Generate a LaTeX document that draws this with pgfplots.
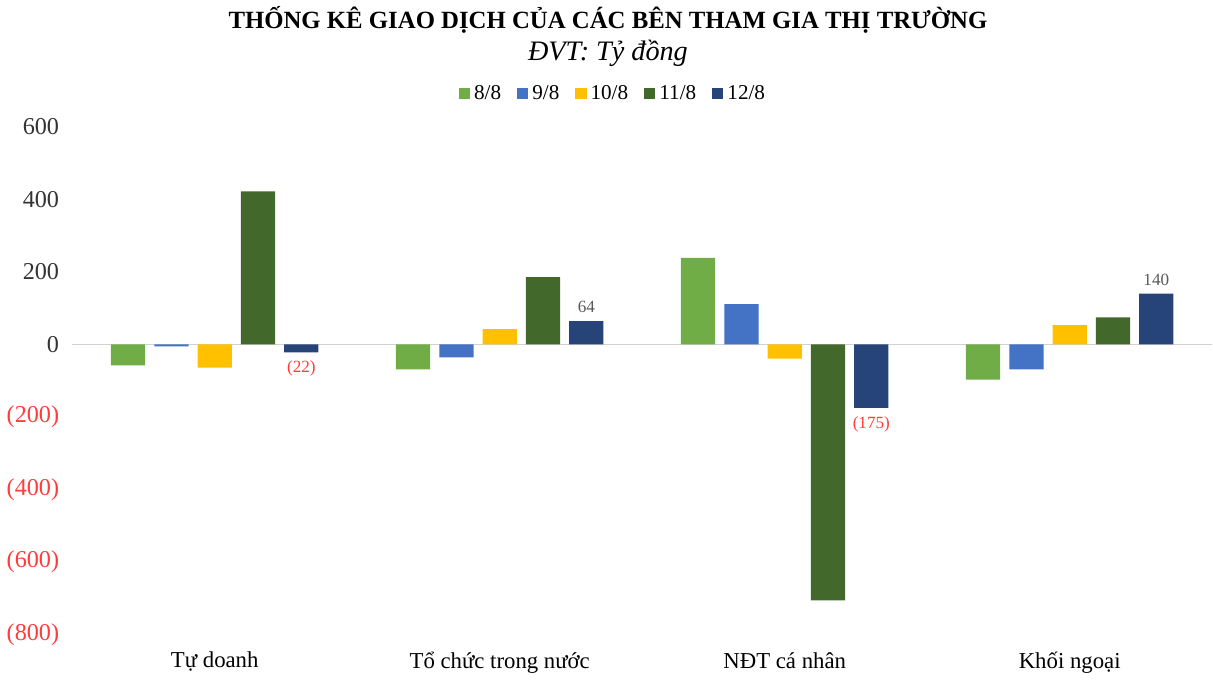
\documentclass[border=0pt]{standalone}
\usepackage{pgfplots}
\pgfplotsset{compat=1.18}
\usepackage{fontspec}
\setmainfont{Liberation Serif}

\definecolor{c1}{HTML}{70AD47}
\definecolor{c2}{HTML}{4472C4}
\definecolor{c3}{HTML}{FFC000}
\definecolor{c4}{HTML}{43682B}
\definecolor{c5}{HTML}{264478}
\definecolor{negred}{HTML}{FF3B3B}
\definecolor{lbl}{HTML}{595959}

\begin{document}
\begin{tikzpicture}
\begin{axis}[
    scale only axis,
    width=566pt, height=252pt,
    xmin=-0.5, xmax=3.5,
    ymin=-800, ymax=600,
    ybar=4.5pt, bar width=17pt,
    axis line style={draw=none},
    major tick style={draw=none},
    xtick={0,1,2,3},
    xticklabels={Tự doanh, Tổ chức trong nước, NĐT cá nhân, Khối ngoại},
    xticklabel style={font=\fontsize{11.3}{13}\selectfont, yshift=-1pt},
    ytick={-800,-600,...,600},
    yticklabels={{\color{negred}(800)},{\color{negred}(600)},{\color{negred}(400)},{\color{negred}(200)},0,200,400,600},
    yticklabel style={font=\fontsize{12}{14}\selectfont, text=black!80, xshift=-3pt},
    clip=false,
    legend columns=-1,
    legend style={draw=none, at={(0.5,1)}, anchor=center, xshift=-14pt, yshift=16.5pt, font=\fontsize{10.5}{12}\selectfont,
                  /tikz/every even column/.append style={column sep=6pt}},
    legend image code/.code={\fill[#1] (0,-0.6ex) rectangle (1.2ex,0.6ex);},
  ]
  \draw[black!18, line width=0.8pt] (axis cs:-0.5,0) -- (axis cs:3.5,0);

  \addplot[fill=c1, draw=none] coordinates {(0,-58) (1,-69) (2,239) (3,-97)};
  \addlegendentry{8/8}
  \addplot[fill=c2, draw=none] coordinates {(0,-5) (1,-36) (2,111) (3,-69)};
  \addlegendentry{9/8}
  \addplot[fill=c3, draw=none] coordinates {(0,-64) (1,42) (2,-39) (3,53)};
  \addlegendentry{10/8}
  \addplot[fill=c4, draw=none] coordinates {(0,422) (1,186) (2,-706) (3,75)};
  \addlegendentry{11/8}
  \addplot[fill=c5, draw=none,
    point meta=explicit symbolic,
    visualization depends on={rawy \as \rawy},
    nodes near coords,
    every node near coord/.append style={font=\fontsize{8.5}{10}\selectfont, text=lbl, inner sep=4pt,
      anchor={\ifdim\rawy pt<0pt north\else south\fi}},
  ] coordinates {(0,-22) [{\color{negred}(22)}] (1,64) [64] (2,-175) [{\color{negred}(175)}] (3,140) [140]};
  \addlegendentry{12/8}
\end{axis}
\node[font=\bfseries\fontsize{12.3}{15}\selectfont] at ([xshift=-17pt,yshift=53pt]current axis.north) {THỐNG KÊ GIAO DỊCH CỦA CÁC BÊN THAM GIA THỊ TRƯỜNG};
\node[font=\itshape\fontsize{14}{16}\selectfont] at ([xshift=-17pt,yshift=36.5pt]current axis.north) {ĐVT: Tỷ đồng};
\end{tikzpicture}
\end{document}
